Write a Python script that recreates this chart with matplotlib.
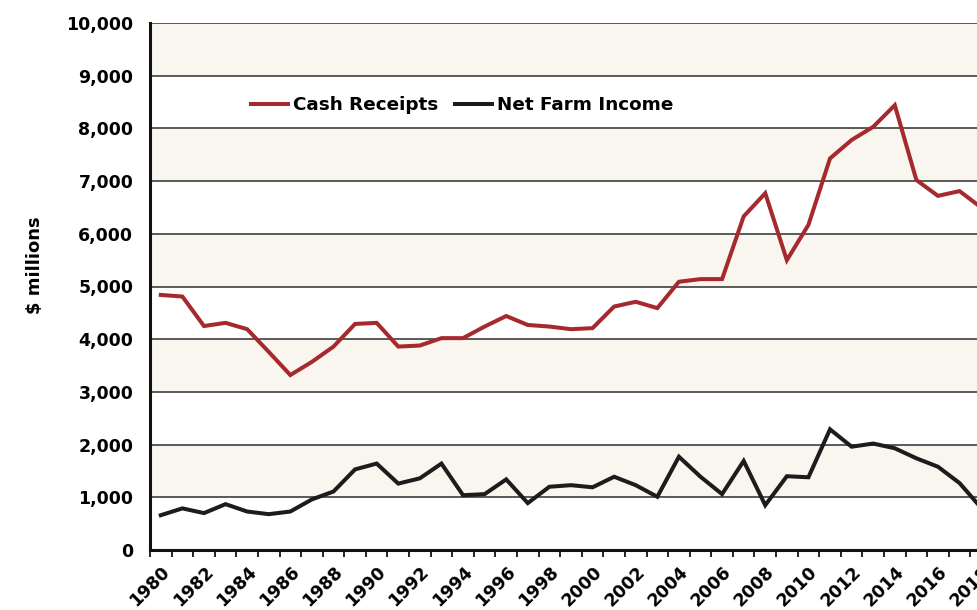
import numpy as np
import matplotlib.pyplot as plt
from matplotlib.ticker import FuncFormatter, MultipleLocator

plt.rcParams['font.family'] = ['DejaVu Sans']
plt.rcParams['font.weight'] = 'bold'

years = list(range(1980, 2019))

# $ millions
cash_receipts = [4840, 4810, 4250, 4310, 4190, 3760, 3320, 3570, 3860, 4290,
                 4310, 3860, 3880, 4020, 4020, 4240, 4440, 4270, 4240, 4190,
                 4210, 4620, 4710, 4590, 5090, 5140, 5140, 6330, 6770, 5500,
                 6170, 7430, 7780, 8030, 8440, 7020, 6720, 6810, 6500]
net_farm_income = [660, 790, 700, 870, 730, 680, 730, 960, 1110, 1530,
                   1640, 1260, 1360, 1640, 1040, 1060, 1340, 890, 1200, 1230,
                   1190, 1390, 1230, 1010, 1770, 1390, 1060, 1690, 850, 1400,
                   1380, 2290, 1960, 2020, 1930, 1740, 1580, 1270, 800]

red = '#A52A2E'
dark = '#1c1c1c'
band = '#F9F6EF'

fig = plt.figure(figsize=(9.77, 6.10), dpi=100)
# axes run past the right edge of the figure
ax = fig.add_axes([150 / 977, 60 / 610, 870 / 977, 527 / 610])

ax.set_xlim(1979.5, 2019.8)
ax.set_ylim(0, 10000)

# alternating horizontal bands
for lo in range(1000, 10000, 2000):
    ax.axhspan(lo, lo + 1000, color=band, zorder=0, lw=0)
for v in range(1000, 10001, 1000):
    ax.axhline(v, color='#2e2e2e', lw=1.1, zorder=1)

ax.plot(years, cash_receipts, color=red, lw=2.9, label='Cash Receipts', zorder=3,
        solid_joinstyle='miter')
ax.plot(years, net_farm_income, color=dark, lw=2.9, label='Net Farm Income', zorder=3,
        solid_joinstyle='miter')

for s in ['top', 'right']:
    ax.spines[s].set_visible(False)
for s in ['left', 'bottom']:
    ax.spines[s].set_linewidth(2.2)
    ax.spines[s].set_color('#111111')

ax.yaxis.set_major_locator(MultipleLocator(1000))
ax.yaxis.set_major_formatter(FuncFormatter(lambda v, p: f'{int(v):,}'))
ax.tick_params(axis='y', length=0, pad=12, labelsize=12.5)

ax.set_xticks(years[::2])
ax.set_xticklabels([str(y) for y in years[::2]], rotation=45, ha='right',
                   rotation_mode='anchor', fontsize=12.5)
ax.set_xticks(np.arange(1979.5, 2020, 1), minor=True)
ax.tick_params(axis='x', which='major', length=0, pad=9)
ax.tick_params(axis='x', which='minor', length=5, width=1.2, direction='out')

fig.text(35 / 977, 1 - 265 / 610, '$ millions', rotation=90, ha='center', va='center',
         fontsize=13, fontweight='bold')

ax.legend(loc='center left', bbox_to_anchor=(0.116, 0.844), ncol=2, frameon=False,
          fontsize=13.2, handlelength=2.0, handletextpad=0.3, columnspacing=0.9,
          borderpad=0, borderaxespad=0)

fig.savefig('out.png', dpi=100)
